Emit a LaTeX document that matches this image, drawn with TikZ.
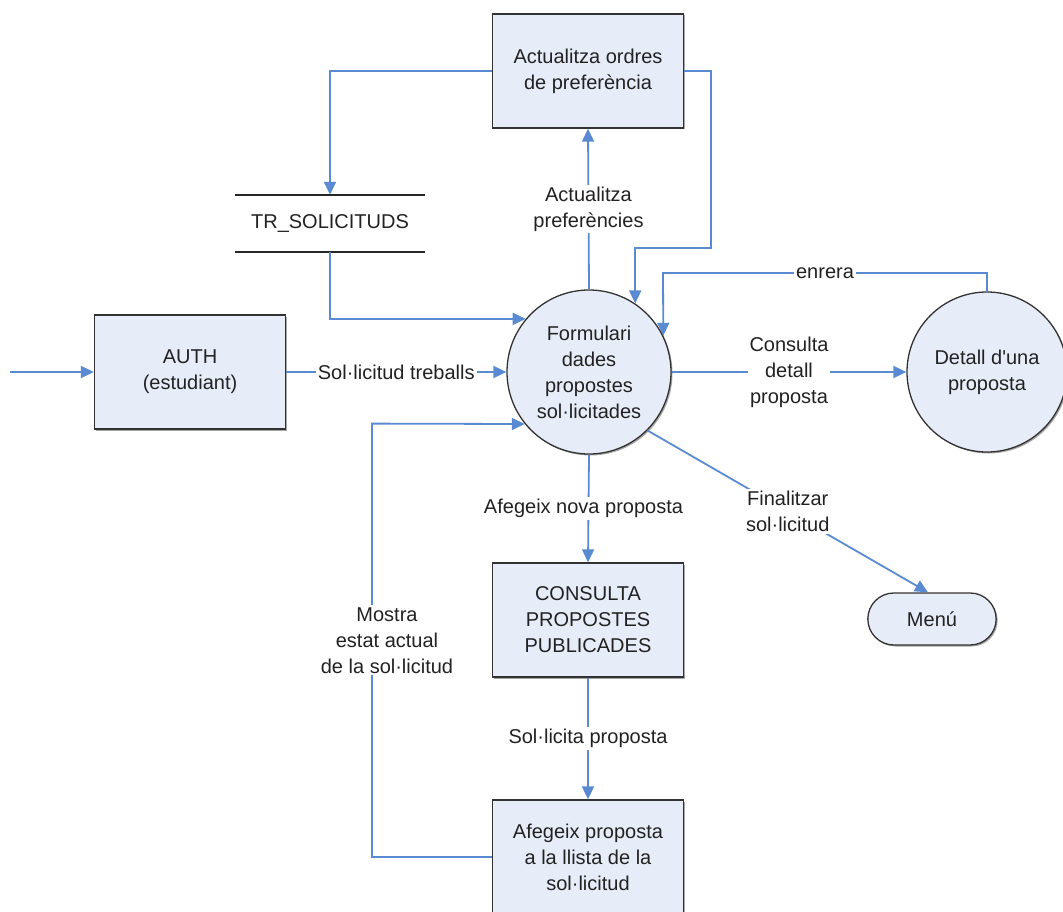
\documentclass[tikz,border=0pt]{standalone}
\usepackage{fontspec}
\setmainfont{Liberation Sans}
\usetikzlibrary{arrows.meta,shapes.misc,shadows}
\definecolor{flow}{HTML}{5A8AD2}
\definecolor{procfill}{HTML}{E7EDF8}
\definecolor{txt}{HTML}{222222}
\begin{document}
\begin{tikzpicture}[x=1pt,y=-1pt,
  font=\fontsize{20}{26}\selectfont, text=txt,
  shade/.style={drop shadow={shadow xshift=1.5pt,shadow yshift=-1.5pt,fill=black,opacity=0.35}},
  procbox/.style={draw=black!80, line width=1.3pt, fill=procfill, shade,
    minimum width=191pt, minimum height=114pt, align=center, inner sep=2pt},
  proccirc/.style={circle, draw=black!80, line width=1.3pt, fill=procfill, shade,
    align=center, inner sep=0pt},
  store/.style={minimum width=190pt, minimum height=57pt, inner sep=0pt},
  flowline/.style={draw=flow, line width=1.8pt},
  flowarrow/.style={flowline, -{Triangle[length=13pt,width=12pt]}},
  flowlabel/.style={fill=white, inner sep=2pt, align=center}]
\useasboundingbox (0,0) rectangle (1063,912);

% processes
\node[procbox] (top) at (588,71) {Actualitza ordres\\de preferència};
\node[procbox] (auth) at (190,372) {AUTH\\(estudiant)};
\node[procbox] (cons) at (588,620) {CONSULTA\\PROPOSTES\\PUBLICADES};
\node[procbox] (afe) at (588,857) {Afegeix proposta\\a la llista de la\\sol·licitud};
\node[proccirc, minimum size=164pt] (form) at (589,372) {Formulari\\dades\\propostes\\sol·licitades};
\node[proccirc, minimum size=160pt] (det) at (987,372) {Detall d\textquotesingle una\\proposta};
\node[rounded rectangle, draw=black!80, line width=1.3pt, fill=procfill, shade,
      minimum width=135pt, minimum height=52pt] (menu) at (932,619) {Menú};

% data store
\node[store] (tr) at (330,223.5) {TR\_SOLICITUDS};
\draw[black!85, line width=1.6pt] (tr.north west) -- (tr.north east);
\draw[black!85, line width=1.6pt] (tr.south west) -- (tr.south east);

% routing points
\coordinate (entry) at (10,372);
\coordinate (c1) at (711,248);
\coordinate (c2) at (663,273);
\coordinate (c3) at (372,423.6);

% flows
\draw[flowarrow] (entry) -- (auth.west);
\draw[flowarrow] (top.west) -| (tr.north);
\draw[flowarrow] (tr.south) |- (form.140);
\draw[flowarrow] (top.east) -| (c1) -| (form.56);
\draw[flowarrow] (form.north) -- node[flowlabel] {Actualitza\\preferències} (top.south);
\draw[flowarrow] (auth.east) -- node[flowlabel] {Sol·licitud treballs} (form.west);
\draw[flowarrow] (form.east) -- node[flowlabel] {Consulta\\detall\\proposta} (det.west);
\draw[flowarrow] (det.north) |- node[flowlabel, pos=0.75] {enrera} (c2) -- (form.26);
\draw[flowarrow] (form.-45) -- node[flowlabel] {Finalitzar\\sol·licitud} ([xshift=-4pt]menu.north);
\draw[flowarrow] (form.south) -- node[flowlabel, xshift=-5pt] {Afegeix nova proposta} (cons.north);
\draw[flowarrow] (cons.south) -- node[flowlabel] {Sol·licita proposta} (afe.north);
\draw[flowarrow] (afe.west) -| node[flowlabel, pos=0.75, xshift=15pt] {Mostra\\estat actual\\de la sol·licitud} (c3) -- (form.219);
\end{tikzpicture}
\end{document}
